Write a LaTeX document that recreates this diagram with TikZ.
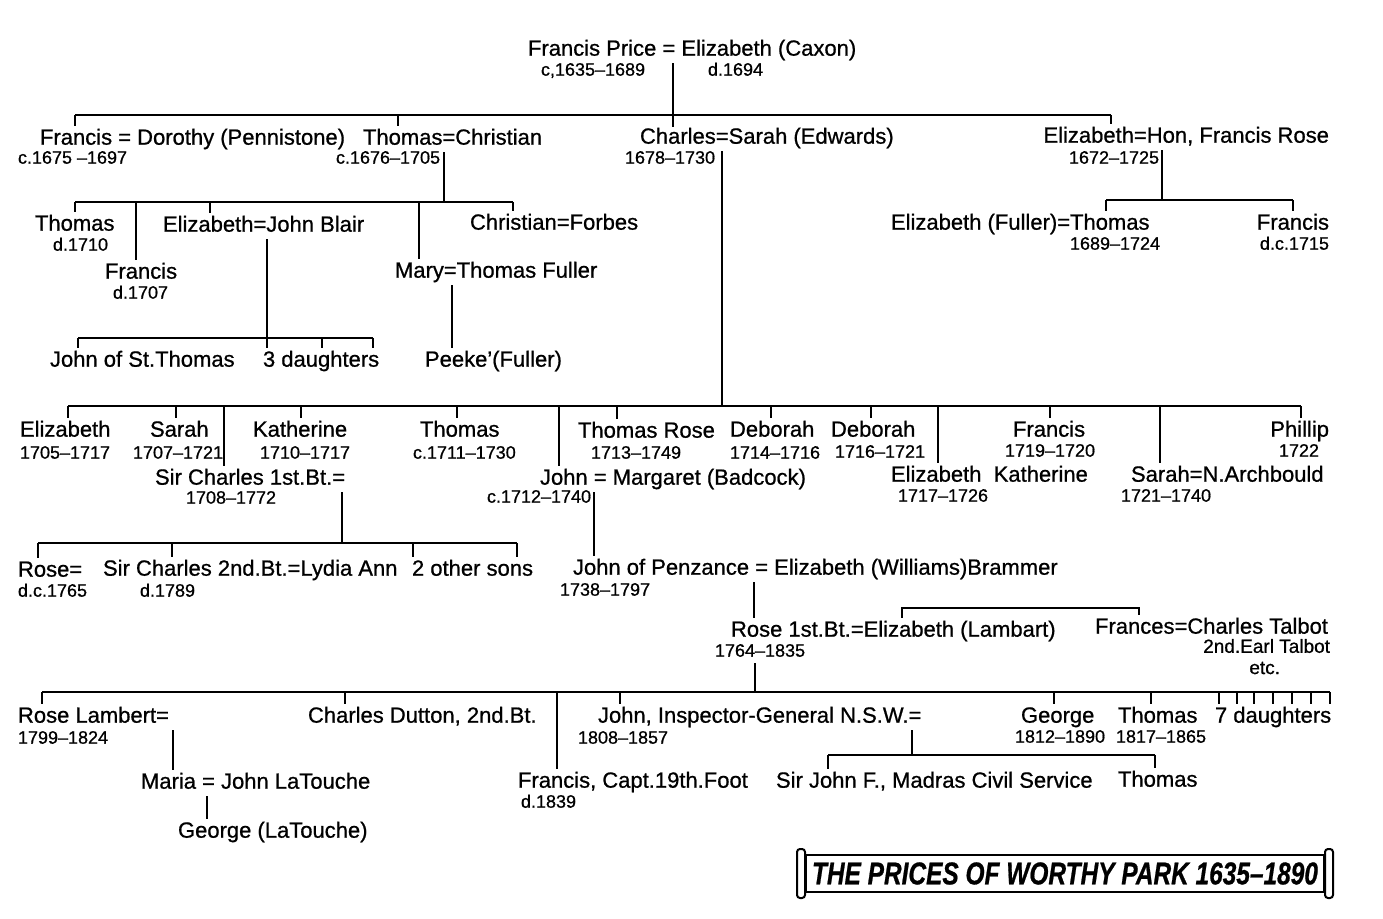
\documentclass[tikz,border=0pt]{standalone}
\usepackage{fontspec}
\setmainfont{Liberation Sans}
\newfontfamily\treefont{Liberation Sans}[Ligatures=TeX, FakeBold=0.8]
\usepackage{graphicx}

\tikzset{
  person/.style={anchor=west, inner sep=1pt, text height=7.9pt, text depth=2.2pt,
                 font=\treefont\fontsize{11}{13}\selectfont},
  personR/.style={person, anchor=east},
  dates/.style={person, text height=6.5pt, text depth=1.8pt,
                font=\treefont\fontsize{9}{11}\selectfont},
  datesR/.style={dates, anchor=east},
  note/.style={anchor=east, inner sep=0pt, font=\treefont\fontsize{9.5}{11}\selectfont},
  scrollEnd/.style={line width=1pt, rounded corners=1.5pt},
}

\begin{document}
\begin{tikzpicture}[x=0.5pt, y=-0.5pt, line width=1pt]
\useasboundingbox (0,0) rectangle (1383,919);

% generation 1
\node[person] (fPrice) at (525,50) {Francis Price = Elizabeth (Caxon)};
\node[dates] (fPriceD) at (538,71) {c,1635--1689};
\node[dates] (eCaxonD) at (705,71) {d.1694};

% generation 2
\node[person] (francisD) at (37,139) {Francis = Dorothy (Pennistone)};
\node[dates] (francisDD) at (15,159) {c.1675 --1697};
\node[person] (thomasC) at (360,139) {Thomas=Christian};
\node[dates] (thomasCD) at (333,159) {c.1676--1705};
\node[person] (charlesS) at (637,138) {Charles=Sarah (Edwards)};
\node[dates] (charlesSD) at (622,159) {1678--1730};
\node[personR] (elizR) at (1332,137) {Elizabeth=Hon, Francis Rose};
\node[dates] (elizRD) at (1066,159) {1672--1725};

\draw (673,0 |- fPrice.south) -- (673,127);
\draw (75,115) -- (1111,115);
\draw (75,115) -- (75,0 |- francisD.north);
\draw (398,115) -- (398,0 |- thomasC.north);
\draw (1111,115) -- (1111,0 |- elizR.north);

% children of Thomas and Christian
\node[person] (thomasA) at (32,225) {Thomas};
\node[dates] (thomasAD) at (50,246) {d.1710};
\node[person] (francisB) at (102,273) {Francis};
\node[dates] (francisBD) at (110,294) {d.1707};
\node[person] (elizB) at (160,226) {Elizabeth=John Blair};
\node[person] (maryF) at (392,272) {Mary=Thomas Fuller};
\node[person] (christianF) at (467,224) {Christian=Forbes};
\node[person] (johnST) at (47,361) {John of St.Thomas};
\node[person] (daughtersB) at (260,361) {3 daughters};
\node[person] (peeke) at (422,361) {Peeke’(Fuller)};

\draw (444,0 |- thomasC.south) -- (444,202);
\draw (75,202) -- (513,202);
\draw (75,202) -- (75,0 |- thomasA.north);
\draw (136,202) -- (136,0 |- francisB.north);
\draw (210,202) -- (210,0 |- elizB.north);
\draw (419,202) -- (419,0 |- maryF.north);
\draw (513,202) -- (513,0 |- christianF.north);

\draw (267,0 |- elizB.south) -- (267,0 |- daughtersB.north);
\draw (78,338) -- (373,338);
\draw (78,338) -- (78,0 |- johnST.north);
\draw (322,338) -- (322,0 |- daughtersB.north);
\draw (373,338) -- (373,0 |- daughtersB.north);
\draw (452,0 |- maryF.south) -- (452,0 |- peeke.north);

% children of Elizabeth and Francis Rose
\node[person] (elizFT) at (888,224) {Elizabeth (Fuller)=Thomas};
\node[dates] (elizFTD) at (1067,245) {1689--1724};
\node[personR] (francisR) at (1332,224) {Francis};
\node[datesR] (francisRD) at (1332,245) {d.c.1715};

\draw (1162,0 |- elizR.south) -- (1162,200);
\draw (1106,200) -- (1293,200);
\draw (1106,200) -- (1106,0 |- elizFT.north);
\draw (1293,200) -- (1293,0 |- francisR.north);

% children of Charles and Sarah
\node[person] (elizC) at (17,431) {Elizabeth};
\node[dates] (elizCD) at (17,454) {1705--1717};
\node[person] (sarahC) at (147,431) {Sarah};
\node[dates] (sarahCD) at (130,454) {1707--1721};
\node[person] (kathC) at (250,431) {Katherine};
\node[dates] (kathCD) at (257,454) {1710--1717};
\node[person] (thomasCC) at (417,431) {Thomas};
\node[dates] (thomasCCD) at (410,454) {c.1711--1730};
\node[person] (sirCharles) at (152,479) {Sir Charles 1st.Bt.=};
\node[dates] (sirCharlesD) at (183,499) {1708--1772};
\node[person] (thomasRose) at (575,432) {Thomas Rose};
\node[dates] (thomasRoseD) at (588,454) {1713--1749};
\node[person] (debA) at (727,431) {Deborah};
\node[dates] (debAD) at (727,454) {1714--1716};
\node[person] (debB) at (828,431) {Deborah};
\node[dates] (debBD) at (832,453) {1716--1721};
\node[person] (johnM) at (537,479) {John = Margaret (Badcock)};
\node[dates] (johnMD) at (484,498) {c.1712--1740};
\node[person] (elizK) at (888,476) {Elizabeth \ Katherine};
\node[dates] (elizKD) at (895,497) {1717--1726};
\node[person] (francisC) at (1010,431) {Francis};
\node[dates] (francisCD) at (1002,452) {1719--1720};
\node[person] (sarahA) at (1128,476) {Sarah=N.Archbould};
\node[dates] (sarahAD) at (1118,497) {1721--1740};
\node[personR] (phillip) at (1332,431) {Phillip};
\node[datesR] (phillipD) at (1322,452) {1722};

\draw (722,0 |- charlesS.south) -- (722,406);
\draw (68,406) -- (1301,406);
\draw (68,406) -- (68,0 |- elizC.north);
\draw (176,406) -- (176,0 |- sarahC.north);
\draw (224,406) -- (224,0 |- sirCharles.north);
\draw (301,406) -- (301,0 |- kathC.north);
\draw (457,406) -- (457,0 |- thomasCC.north);
\draw (559,406) -- (559,0 |- johnM.north);
\draw (617,406) -- (617,0 |- thomasRose.north);
\draw (771,406) -- (771,0 |- debA.north);
\draw (871,406) -- (871,0 |- debB.north);
\draw (938,406) -- (938,0 |- elizK.north);
\draw (1050,406) -- (1050,0 |- francisC.north);
\draw (1160,406) -- (1160,0 |- sarahA.north);
\draw (1301,406) -- (1301,0 |- phillip.north);

% children of Sir Charles 1st Bt.
\node[person] (roseA) at (15,571) {Rose=};
\node[dates] (roseAD) at (15,592) {d.c.1765};
\node[person] (sirCharles2) at (100,570) {Sir Charles 2nd.Bt.=Lydia Ann};
\node[dates] (sirCharles2D) at (137,592) {d.1789};
\node[person] (otherSons) at (409,570) {2 other sons};

\draw (342,0 |- sirCharles.south) -- (342,543);
\draw (38,543) -- (517,543);
\draw (38,543) -- (38,0 |- roseA.north);
\draw (172,543) -- (172,0 |- sirCharles2.north);
\draw (413,543) -- (413,0 |- otherSons.north);
\draw (517,543) -- (517,0 |- otherSons.north);

% John and Margaret down to Rose 1st Bt.
\node[person] (johnP) at (570,569) {John of Penzance = Elizabeth (Williams)Brammer};
\node[dates] (johnPD) at (557,591) {1738--1797};
\node[person] (rose1) at (728,631) {Rose 1st.Bt.=Elizabeth (Lambart)};
\node[dates] (rose1D) at (712,652) {1764--1835};
\node[personR] (frances) at (1331,628) {Frances=Charles Talbot};
\node[note] (francesB) at (1331,646) {2nd.Earl Talbot};
\node[note] (francesC) at (1281,668) {etc.};

\draw (594,0 |- johnM.south) -- (594,0 |- johnP.north);
\draw (754,0 |- johnP.south) -- (754,0 |- rose1.north);
\draw (902,0 |- rose1.north) -- (902,608) -- (1139,608) -- (1139,0 |- frances.north);

% children of Rose 1st Bt.
\node[person] (roseL) at (15,717) {Rose Lambert=};
\node[dates] (roseLD) at (15,739) {1799--1824};
\node[person] (maria) at (138,783) {Maria = John LaTouche};
\node[person] (georgeLT) at (175,832) {George (LaTouche)};
\node[person] (charlesDutton) at (305,717) {Charles Dutton, 2nd.Bt.};
\node[person] (francisCapt) at (515,782) {Francis, Capt.19th.Foot};
\node[dates] (francisCaptD) at (518,803) {d.1839};
\node[person] (johnIG) at (595,717) {John, Inspector-General N.S.W.=};
\node[dates] (johnIGD) at (575,739) {1808--1857};
\node[person] (sirJohnF) at (773,782) {Sir John F., Madras Civil Service};
\node[person] (thomasM) at (1115,781) {Thomas};
\node[person] (georgeB) at (1018,717) {George};
\node[dates] (georgeBD) at (1012,738) {1812--1890};
\node[person] (thomasB) at (1115,717) {Thomas};
\node[dates] (thomasBD) at (1113,738) {1817--1865};
\node[person] (daughters7) at (1212,717) {7 daughters};

\draw (755,0 |- rose1D.south) -- (755,692);
\draw (42,692) -- (1330,692);
\draw (42,692) -- (42,0 |- roseL.north);
\draw (345,692) -- (345,0 |- charlesDutton.north);
\draw (557,692) -- (557,0 |- francisCapt.north);
\draw (620,692) -- (620,0 |- johnIG.north);
\draw (1054,692) -- (1054,0 |- georgeB.north);
\draw (1151,692) -- (1151,0 |- thomasB.north);
\foreach \x in {1219,1237,1254,1273,1292,1311,1330}
  \draw (\x,692) -- (\x,0 |- daughters7.north);

\draw (173,0 |- roseL.south) -- (173,0 |- maria.north);
\draw (207,0 |- maria.south) -- (207,0 |- georgeLT.north);
\draw (912,0 |- johnIG.south) -- (912,755);
\draw (828,755) -- (1155,755);
\draw (828,755) -- (828,0 |- sirJohnF.north);
\draw (1155,755) -- (1155,0 |- thomasM.north);

% title scroll
\node[draw, minimum width=259pt, minimum height=18.5pt, inner sep=0pt] (title) at (1065,873.5)
  {\resizebox{253pt}{11pt}{\treefont\bfseries\itshape THE PRICES OF WORTHY PARK 1635--1890}};
\draw[scrollEnd] ([shift={(-4pt,2.5pt)}]title.north west) rectangle ([yshift=-2.5pt]title.south west);
\draw[scrollEnd] ([yshift=2.5pt]title.north east) rectangle ([shift={(4pt,-2.5pt)}]title.south east);
\end{tikzpicture}
\end{document}
